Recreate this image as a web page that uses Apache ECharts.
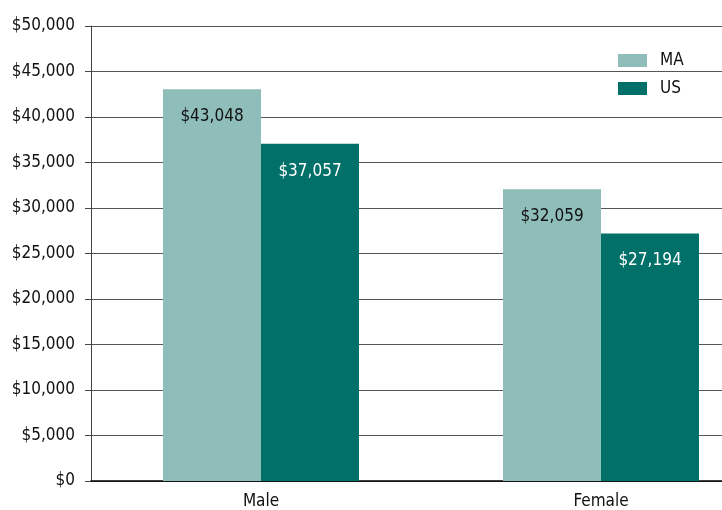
<!DOCTYPE html>
<html>
<head>
    <meta charset="utf-8">
    <title>ECharts</title>
    <script src="https://cdn.jsdelivr.net/npm/echarts@6/dist/echarts.min.js"></script>
</head>
<body style="margin:0">
<div id="main" style="height: 510px; width: 722px;"></div>
<script type="text/javascript">
    // data
    var categories = ['Male', 'Female'];
    var maValues = [43048, 32059];
    var usValues = [37057, 27194];

    var fontName = '"DejaVu Sans Condensed", "Liberation Sans Narrow", sans-serif';

    var myChart = echarts.init(document.getElementById('main'));

    function money(v) {
        return '$' + v.toLocaleString('en-US');
    }

    var option = {
        backgroundColor: '#fff',
        textStyle: { fontFamily: fontName },
        legend: {
            orient: 'vertical',
            left: 613,
            top: 47,
            icon: 'rect',
            itemWidth: 29,
            itemHeight: 13,
            itemGap: 11,
            textStyle: { fontFamily: fontName, fontSize: 17, color: '#111', padding: [0, 0, 0, 8] },
            data: ['MA', 'US']
        },
        grid: {
            left: 91,
            right: -49,
            top: 26,
            bottom: 29,
            outerBoundsMode: 'none',
            containLabel: false
        },
        xAxis: {
            type: 'category',
            data: categories,
            axisLine: { lineStyle: { color: '#000', width: 1.5 } },
            axisTick: { show: false },
            axisLabel: {
                color: '#111',
                fontSize: 17,
                fontFamily: fontName,
                margin: 12
            }
        },
        yAxis: {
            type: 'value',
            min: 0,
            max: 50000,
            interval: 5000,
            axisLine: { show: true, lineStyle: { color: '#444' } },
            axisTick: { show: true, length: 6, lineStyle: { color: '#444' } },
            splitLine: { lineStyle: { color: '#555', width: 1.2 } },
            axisLabel: {
                color: '#111',
                fontSize: 17,
                fontFamily: fontName,
                margin: 16,
                formatter: money
            }
        },
        series: [
            {
                name: 'MA',
                type: 'bar',
                data: maValues,
                barWidth: 98,
                barGap: '0%',
                itemStyle: { color: '#8fbdba' },
                label: {
                    show: true,
                    position: 'insideTop',
                    distance: 19,
                    color: '#111',
                    fontSize: 17,
                    fontFamily: fontName,
                    formatter: function (p) { return money(p.value); }
                }
            },
            {
                name: 'US',
                type: 'bar',
                data: usValues,
                barWidth: 98,
                itemStyle: { color: '#007068' },
                label: {
                    show: true,
                    position: 'insideTop',
                    distance: 19,
                    color: '#fff',
                    fontSize: 17,
                    fontFamily: fontName,
                    formatter: function (p) { return money(p.value); }
                }
            }
        ]
    };

    myChart.setOption(option);
</script>
</body>
</html>
